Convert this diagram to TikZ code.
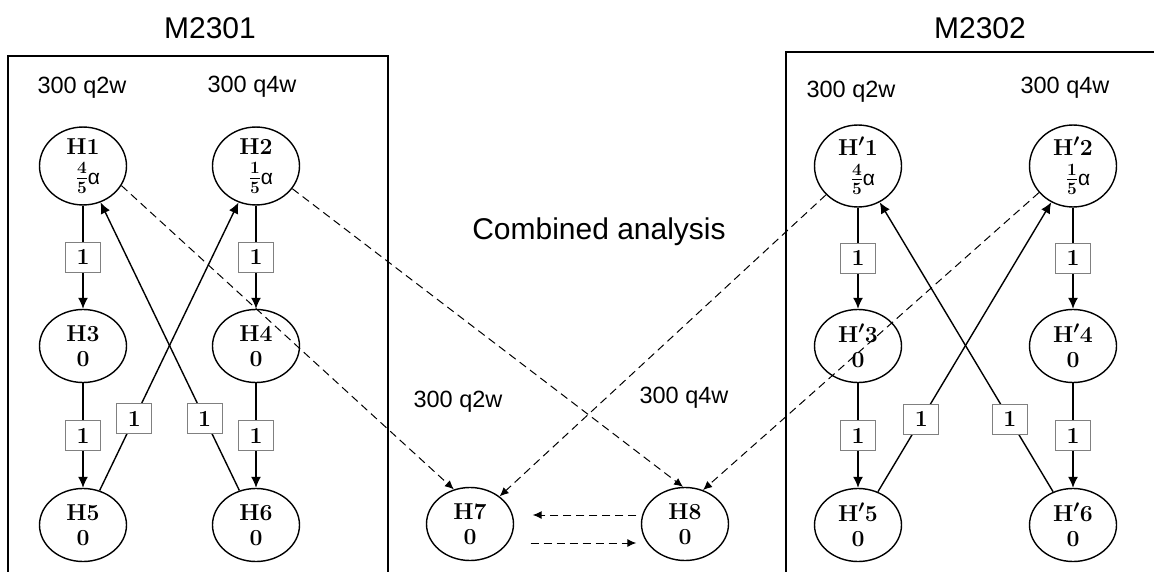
\documentclass[tikz,border=0pt]{standalone}
\usepackage{fontspec}
\usepackage{amsmath}
\newfontfamily\arial{Liberation Sans}
\usetikzlibrary{shapes.geometric,arrows.meta}
\tikzset{
  hnode/.style={ellipse,draw,line width=1.4pt,minimum width=87pt,minimum height=73pt,inner sep=0pt,align=center,font=\fontsize{23}{25}\selectfont\bfseries\boldmath},
  wlabel/.style={draw=gray,fill=white,line width=1pt,minimum width=35pt,minimum height=30pt,inner sep=0pt,font=\fontsize{23}{24}\selectfont\bfseries},
  solidarrow/.style={line width=1.4pt,-{Latex[length=11pt,width=10pt]}},
  dasharrow/.style={line width=1pt,dash pattern=on 8pt off 5pt,-{Latex[length=9pt,width=8pt]}},
  titletext/.style={font=\arial\fontsize{30}{36}\selectfont},
  dosetext/.style={font=\arial\fontsize{23.5}{28}\selectfont},
  boxline/.style={line width=1.5pt},
}
\newcommand{\alf}{{\arial\mdseries\fontsize{21}{24}\selectfont α}}
\begin{document}
\begin{tikzpicture}[x=1pt,y=-1pt]
\useasboundingbox (0,0) rectangle (1154,572);
% frames
\draw[boxline] (8,600) -- (8,56) -- (388,56) -- (388,600);
\draw[boxline] (1190,52) -- (786,52) -- (786,600);
% titles
\node[titletext] (t1) at (210,28) {M2301};
\node[titletext] (t2) at (980,28) {M2302};
\node[titletext] (comb) at (599,232) {Combined analysis};
% dose labels
\node[dosetext] (d1) at (82,88) {300 q2w};
\node[dosetext] (d2) at (252,87) {300 q4w};
\node[dosetext] (d3) at (851,92) {300 q2w};
\node[dosetext] (d4) at (1065,88) {300 q4w};
\node[dosetext] (d5) at (458,402) {300 q2w};
\node[dosetext] (d6) at (684,398) {300 q4w};
% left nodes
\node[hnode] (H1) at (83,166) {H1\\[5pt]\hspace*{10pt}$\tfrac{4}{5}$\alf};
\node[hnode] (H2) at (256,166) {H2\\[5pt]\hspace*{10pt}$\tfrac{1}{5}$\alf};
\node[hnode] (H3) at (83,346) {H3\\0};
\node[hnode] (H4) at (256,346) {H4\\0};
\node[hnode] (H5) at (83,525) {H5\\0};
\node[hnode] (H6) at (256,525) {H6\\0};
% right nodes
\node[hnode] (P1) at (858,166) {H$'$1\\[5pt]\hspace*{10pt}$\tfrac{4}{5}$\alf};
\node[hnode] (P2) at (1073,166) {H$'$2\\[5pt]\hspace*{10pt}$\tfrac{1}{5}$\alf};
\node[hnode] (P3) at (858,346) {H$'$3\\0};
\node[hnode] (P4) at (1073,346) {H$'$4\\0};
\node[hnode] (P5) at (858,525) {H$'$5\\0};
\node[hnode] (P6) at (1073,525) {H$'$6\\0};
% middle nodes
\node[hnode] (H7) at (470,524) {H7\\0};
\node[hnode] (H8) at (685,524) {H8\\0};
% left edges
\draw[solidarrow] (H1) -- node[wlabel]{1} (H3);
\draw[solidarrow] (H3) -- node[wlabel]{1} (H5);
\draw[solidarrow] (H2) -- node[wlabel]{1} (H4);
\draw[solidarrow] (H4) -- node[wlabel]{1} (H6);
\draw[solidarrow] (H5) -- node[wlabel,pos=0.25]{1} (H2);
\draw[solidarrow] (H6) -- node[wlabel,pos=0.25]{1} (H1);
% right edges
\draw[solidarrow] (P1) -- node[wlabel]{1} (P3);
\draw[solidarrow] (P3) -- node[wlabel]{1} (P5);
\draw[solidarrow] (P2) -- node[wlabel]{1} (P4);
\draw[solidarrow] (P4) -- node[wlabel]{1} (P6);
\draw[solidarrow] (P5) -- node[wlabel,pos=0.25]{1} (P2);
\draw[solidarrow] (P6) -- node[wlabel,pos=0.25]{1} (P1);
% combined dashed
\draw[dasharrow] (H1.-27) -- (H7.115);
\draw[dasharrow] (H2.-32) -- (H8.93);
\draw[dasharrow] (P1.-138) -- (H7.43);
\draw[dasharrow] (P2.-142) -- (H8.62);
\draw[dasharrow,shorten <=4.5pt,shorten >=18.5pt] ([yshift=9pt]H8.west) -- ([yshift=9pt]H7.east);
\draw[dasharrow,shorten <=16.5pt,shorten >=4.5pt] ([yshift=-19pt]H7.east) -- ([yshift=-19pt]H8.west);
\end{tikzpicture}
\end{document}
